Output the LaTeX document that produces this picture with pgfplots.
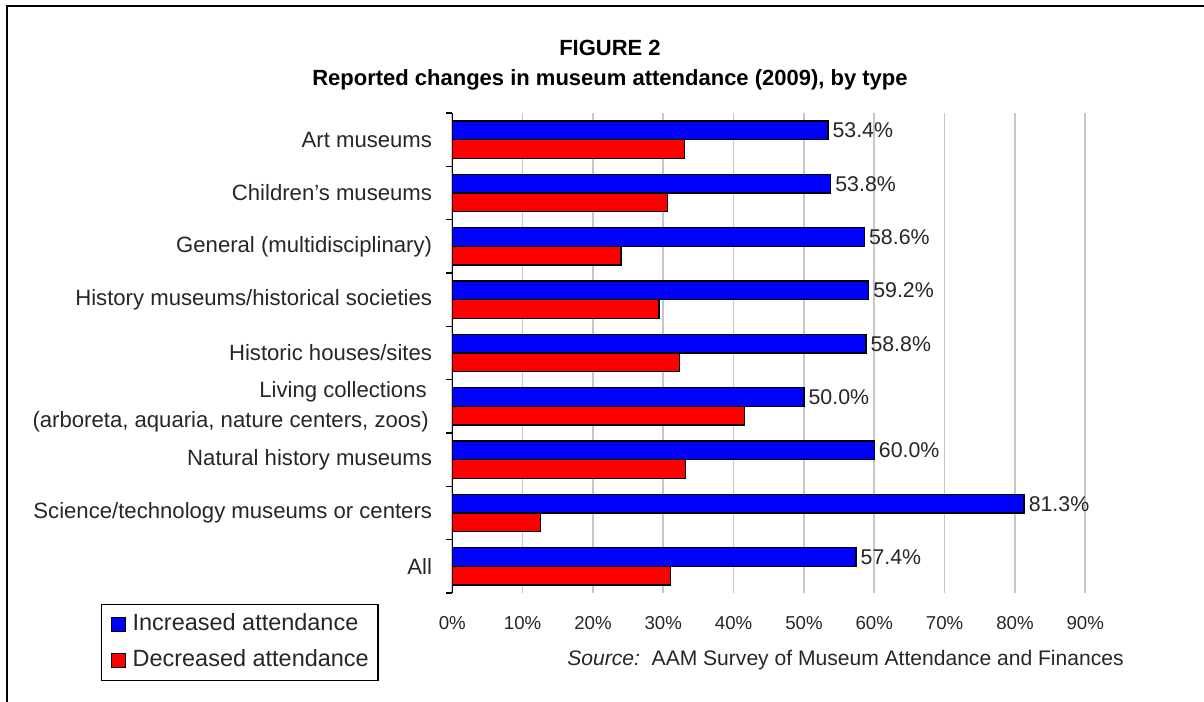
\documentclass[border=0pt]{standalone}
\usepackage{fontspec}
\setmainfont{Liberation Sans}
\usepackage{pgfplots}
\pgfplotsset{compat=1.18}
\pgfplotsset{sqlegend/.style={legend image code/.code={\draw[##1] (0pt,-5.25pt) rectangle (10.5pt,5.25pt); \path (15.5pt,0pt);}}}
\pgfplotstableread{
y inc dec
0 53.4 33.0
1 53.8 30.6
2 58.6 24.0
3 59.2 29.4
4 58.8 32.3
5 50.0 41.5
6 60.0 33.2
7 81.3 12.5
8 57.4 31.0
}\datatable
\begin{document}
\begin{tikzpicture}[x=0.75pt,y=0.75pt]
\begin{axis}[
  at={(0,0)}, anchor=south west,
  scale only axis, width=474.75pt, height=360pt,
  xbar, bar width=0.35,
  xmin=0, xmax=90, ymin=-0.5, ymax=8.5, y dir=reverse,
  axis lines*=left, axis line style={-},
  x axis line style={draw=none},
  y axis line style={black, line width=1pt},
  /pgf/number format/assume math mode=true,
  xtick={0,10,...,90},
  xticklabel={\pgfmathprintnumber{\tick}\%},
  xtick style={draw=none},
  xmajorgrids, major grid style={black!22, line width=1.2pt},
  major tick length=0pt, minor tick length=4.5pt, tick align=outside,
  ytick={0,...,8},
  minor ytick={-0.5,0.5,...,8.5},
  minor y tick style={black, line width=1pt},
  yticklabels={Art museums, Children's museums, General (multidisciplinary), History museums/historical societies, Historic houses/sites, {Living collections\hspace*{4pt}\\(arboreta, aquaria, nature centers, zoos)\hspace*{2.5pt}}, Natural history museums, Science/technology museums or centers, All},
  yticklabel style={align=right, font=\fontsize{16.6}{22.5}\selectfont, inner sep=0pt, xshift=-15pt, text=black!85},
  xticklabel style={font=\fontsize{14}{16}\selectfont, inner sep=0pt, anchor=center, yshift=-22.5pt, text=black!85},
  legend style={at={(axis description cs:-0.5555,-0.0229)}, anchor=north west, draw=black, line width=1pt,
    inner xsep=7pt, inner ysep=7pt, row sep=11pt, font=\fontsize{17.6}{20}\selectfont,
    nodes={inner sep=0pt, text height=12.5pt, text depth=3.5pt, text=black!85}},
  legend cell align=left,
]
\addplot[fill=blue, draw=black, line width=1pt, bar shift=-0.175,
  point meta=x,
  nodes near coords={\pgfmathprintnumber[fixed,fixed zerofill,precision=1]{\pgfplotspointmeta}\%},
  every node near coord/.append style={font=\fontsize{16}{18}\selectfont, text=black!85, inner sep=0pt, xshift=3pt, anchor=west},
  sqlegend]
  table[x=inc, y=y] {\datatable};
\addlegendentry{Increased attendance}
\addplot[fill=red, draw=black, line width=1pt, bar shift=0.175, sqlegend]
  table[x=dec, y=y] {\datatable};
\addlegendentry{Decreased attendance}
\end{axis}
\node[font=\bfseries\fontsize{16.5}{18}\selectfont] at (157.7,545) {FIGURE 2};
\node[font=\bfseries\fontsize{16.5}{18}\selectfont] at (157.7,513) {Reported changes in museum attendance (2009), by type};
\node[font=\fontsize{15.8}{18}\selectfont, text=black!85] at (393.2,-67) {\textit{Source:}\ \ AAM Survey of Museum Attendance and Finances};
\draw[line width=1.5pt] (-445.3,-130) -- (-445.3,587) -- (780,587);
\pgfresetboundingbox
\path[use as bounding box] (-452.3,-108) rectangle (751.7,593);
\end{tikzpicture}
\end{document}
